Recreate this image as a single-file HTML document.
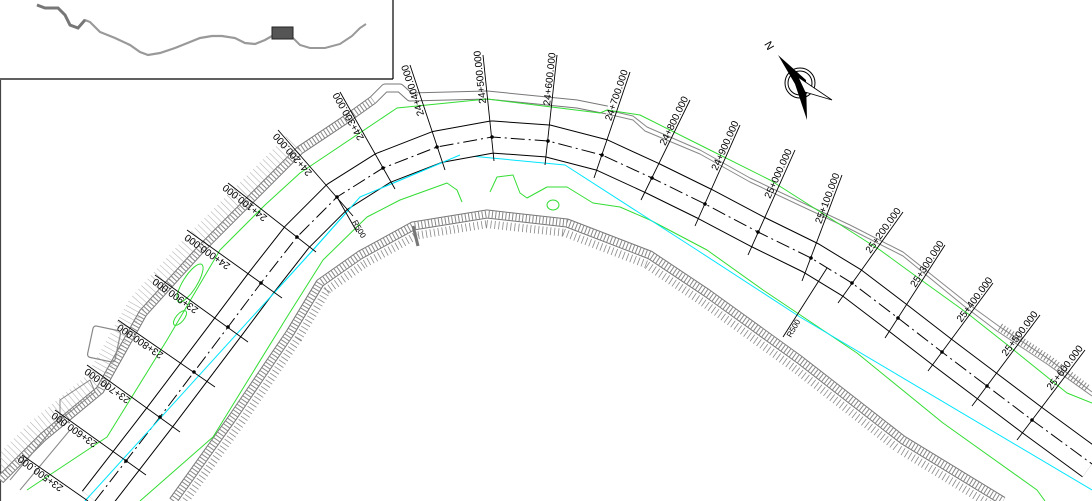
<!DOCTYPE html>
<html><head><meta charset="utf-8"><style>
html,body{margin:0;padding:0;background:#fff;width:1092px;height:501px;overflow:hidden;}
svg{display:block;overflow:hidden;}
text{font-family:"Liberation Sans",sans-serif;}
</style></head><body>
<svg width="1092" height="501" viewBox="0 0 1092 501" xmlns="http://www.w3.org/2000/svg">
<defs>
<clipPath id="below"><path d="M173,501 L233,417 L290,333 L320,283 L360,255 L413,226 L487,214 L567,223 L650,255 L707,293 L800,360 L903,440 L1003,501 Z"/></clipPath>
<clipPath id="frame"><rect x="0" y="0" width="1092" height="501"/></clipPath>
</defs>
<rect width="1092" height="501" fill="#fff"/>
<g clip-path="url(#frame)">

<!-- inset -->
<g fill="none">
<polyline points="37,5 45,8 58,8 65,15 70,25 78,28 85,20 90,22 100,32 115,38 130,45 140,52 148,55 160,53 175,48 190,42 200,38 212,36 222,36 235,38 245,43 255,44 265,40 272,36" stroke="#999" stroke-width="2.2"/>
<polyline points="293,38 300,45 310,48 325,48 340,44 352,36 360,28 366,24" stroke="#999" stroke-width="2"/>
<polyline points="37,5 45,8 58,8 65,15 70,25 78,28 85,20" stroke="#777" stroke-width="3"/>
<rect x="272" y="27" width="21" height="12" fill="#555" stroke="#222"/>
<line x1="0" y1="79" x2="393" y2="79" stroke="#000" stroke-width="1.2"/>
<line x1="393" y1="0" x2="393" y2="79" stroke="#000" stroke-width="1.2"/>
<line x1="0.5" y1="80" x2="0.5" y2="501" stroke="#444" stroke-width="1.2"/>
</g>

<!-- inner bank teeth -->
<g clip-path="url(#below)" fill="none">
<polyline points="173,501 233,417 290,333 320,283 360,255 413,226 487,214 567,223 650,255 707,293 800,360 903,440 1003,501" stroke="#888" stroke-width="28" stroke-dasharray="0.8 3.2" stroke-linejoin="round"/>
</g>
<g fill="none" stroke-linejoin="round">
<polyline points="173,501 233,417 290,333 320,283 360,255 413,226 487,214 567,223 650,255 707,293 800,360 903,440 1003,501" stroke="#fff" stroke-width="12"/>
<polyline points="173,501 233,417 290,333 320,283 360,255 413,226 487,214 567,223 650,255 707,293 800,360 903,440 1003,501" stroke="#777" stroke-width="9"/>
<polyline points="173,501 233,417 290,333 320,283 360,255 413,226 487,214 567,223 650,255 707,293 800,360 903,440 1003,501" stroke="#fff" stroke-width="7"/>
<polyline points="173,501 233,417 290,333 320,283 360,255 413,226 487,214 567,223 650,255 707,293 800,360 903,440 1003,501" stroke="#888" stroke-width="7" stroke-dasharray="1 2.4"/>
<line x1="413" y1="226" x2="418" y2="246" stroke="#777" stroke-width="3"/>

<!-- outer levee -->
<polyline points="0,480 43,437 100,390 143,313 200,250 250,200 300,150 345,120 373,100 385,88 400,88 410,97 487,95 577,104 607,110" stroke="#777" stroke-width="9"/>
<polyline points="0,480 43,437 100,390 143,313 200,250 250,200 300,150 345,120 373,100 385,88 400,88 410,97 487,95 577,104 607,110" stroke="#fff" stroke-width="7"/>
<polyline points="0,480 43,437 100,390 143,313 200,250 250,200 300,150 345,120 373,100" stroke="#888" stroke-width="7" stroke-dasharray="1 2.4"/>
<polyline points="6,477 49,434 106,387 149,310 206,247 256,197 306,147" stroke="#888" stroke-width="18" stroke-dasharray="0.6 4" transform="translate(-12,-6)" opacity="0.6"/>
<polyline points="607,110 633,116 647,127 700,150 750,178 850,225 903,252 967,303 1000,327 1050,360 1092,392" stroke="#888" stroke-width="1"/>
<polyline points="607,114 633,120 645,131 700,154 750,182 850,229 903,256 964,306 997,331 1047,364 1092,396" stroke="#888" stroke-width="1"/>
<polyline points="1000,327 1050,360 1088,389" stroke="#888" stroke-width="8" stroke-dasharray="1 2.4"/>
<rect x="90" y="328" width="28" height="32" rx="3" stroke="#888" stroke-width="1.2" transform="rotate(12 104 344)"/>
<path d="M60,400 L90,380 L95,392 L60,420 Z" stroke="#888" stroke-width="1"/>
<path d="M10,480 L60,420 M20,490 L70,430" stroke="#888" stroke-width="1"/>

<!-- outer green -->
<polyline points="27,490 107,437 167,340 220,250 265,205 300,173 397,108 487,99 600,113 607,110 640,115 700,145 770,180 880,250 917,277 967,313 1010,347 1067,393 1092,403" stroke="#33dd33" stroke-width="1"/>
<ellipse cx="190" cy="283" rx="22" ry="7" transform="rotate(-58 190 283)" stroke="#33dd33" stroke-width="1"/>
<ellipse cx="180" cy="318" rx="9" ry="4" transform="rotate(-50 180 318)" stroke="#33dd33" stroke-width="1"/>

<!-- inner greens -->
<polyline points="140,501 213,437 287,317 323,260 367,217 400,200 447,183 457,190 462,202" stroke="#33dd33" stroke-width="1"/>
<polyline points="490,192 497,177 513,175 520,193 527,198 547,187 567,187 593,203 620,207 650,220 707,250 763,290 857,353 943,423 1037,490 1045,501" stroke="#33dd33" stroke-width="1"/>
<ellipse cx="553" cy="205" rx="6" ry="5" stroke="#33dd33" stroke-width="1"/>

<!-- cyan -->
<polyline points="85,501 313,250 360,197 460,155 565,165 697,250 800,317 1092,490" stroke="#00e5ff" stroke-width="1"/>

<!-- channel lines -->
<polyline points="95,501 126,461 160,417 194,372 228,327 261,283 297,237 337,197 383,168 437,147 492,137 548,141 602,155 652,178 705,204 758,232 811,258 852,283 898,318 942,352 987,386 1032,420 1077,453 1092,464" stroke="#000" stroke-width="33"/>
<polyline points="95,501 126,461 160,417 194,372 228,327 261,283 297,237 337,197 383,168 437,147 492,137 548,141 602,155 652,178 705,204 758,232 811,258 852,283 898,318 942,352 987,386 1032,420 1077,453 1092,464" stroke="#fff" stroke-width="31"/>
<polyline points="95,501 126,461 160,417 194,372 228,327 261,283 297,237 337,197 383,168 437,147 492,137 548,141 602,155 652,178 705,204 758,232 811,258 852,283 898,318 942,352 987,386 1032,420 1077,453 1092,464" stroke="#000" stroke-width="1" stroke-dasharray="14 4 2 4"/>
<polyline points="85,501 313,250 360,197 460,155" stroke="#00e5ff" stroke-width="1"/>
</g>

<!-- station lines -->
<g stroke="#000" stroke-width="0.9" fill="none">
<line x1="494" y1="161" x2="483" y2="55"/>
<line x1="545" y1="165" x2="557" y2="55"/>
<line x1="594" y1="178" x2="630" y2="72"/>
<line x1="445" y1="170" x2="410" y2="65"/>
<line x1="395" y1="189" x2="340" y2="92"/>
<line x1="353" y1="216" x2="278" y2="130"/>
<line x1="316" y1="252" x2="228" y2="183"/>
<line x1="282" y1="298" x2="187" y2="230"/>
<line x1="248" y1="342" x2="155" y2="275"/>
<line x1="215" y1="387" x2="118" y2="320"/>
<line x1="180" y1="432" x2="87" y2="365"/>
<line x1="146" y1="475" x2="55" y2="410"/>
<line x1="88" y1="501" x2="22" y2="455"/>
<line x1="641" y1="200" x2="690" y2="100"/>
<line x1="695" y1="226" x2="740" y2="125"/>
<line x1="748" y1="255" x2="795" y2="150"/>
<line x1="802" y1="281" x2="842" y2="175"/>
<line x1="838" y1="303" x2="903" y2="212"/>
<line x1="885" y1="338" x2="945" y2="245"/>
<line x1="928" y1="371" x2="993" y2="283"/>
<line x1="972" y1="406" x2="1040" y2="315"/>
<line x1="1017" y1="440" x2="1085" y2="350"/>
<line x1="337" y1="197" x2="357" y2="232"/>
<line x1="827" y1="268" x2="783" y2="337"/>
</g>
<g fill="#000">
<circle cx="492" cy="137" r="1.8"/><circle cx="548" cy="141" r="1.8"/><circle cx="602" cy="155" r="1.8"/><circle cx="437" cy="147" r="1.8"/><circle cx="383" cy="168" r="1.8"/><circle cx="337" cy="197" r="1.8"/><circle cx="297" cy="237" r="1.8"/><circle cx="261" cy="283" r="1.8"/><circle cx="228" cy="327" r="1.8"/><circle cx="194" cy="372" r="1.8"/><circle cx="160" cy="417" r="1.8"/><circle cx="126" cy="461" r="1.8"/><circle cx="652" cy="178" r="1.8"/><circle cx="705" cy="204" r="1.8"/><circle cx="758" cy="232" r="1.8"/><circle cx="811" cy="258" r="1.8"/><circle cx="852" cy="283" r="1.8"/><circle cx="898" cy="318" r="1.8"/><circle cx="942" cy="352" r="1.8"/><circle cx="987" cy="386" r="1.8"/><circle cx="1032" cy="420" r="1.8"/>
</g>

<!-- labels -->
<g font-size="10" fill="#000">
<text transform="translate(488,103) rotate(-96.2)" dy="-2">24+500.000</text>
<text transform="translate(552,106) rotate(-84)" dy="-2">24+600.000</text>
<text transform="translate(613,122) rotate(-71.4)" dy="-2">24+700.000</text>
<text transform="translate(426,114) rotate(-108.2)" dy="-2">24+400.000</text>
<text transform="translate(366,137) rotate(-119.5)" dy="-2">24+300.000</text>
<text transform="translate(314,171) rotate(-131.4)" dy="-2">24+200.000</text>
<text transform="translate(269,215) rotate(-142)" dy="-2">24+100.000</text>
<text transform="translate(232,263) rotate(-144.4)" dy="-2">24+000.000</text>
<text transform="translate(200,307) rotate(-144.5)" dy="-2">23+900.000</text>
<text transform="translate(165,352) rotate(-145.6)" dy="-2">23+800.000</text>
<text transform="translate(132,397) rotate(-144.5)" dy="-2">23+700.000</text>
<text transform="translate(99,441) rotate(-144.5)" dy="-2">23+600.000</text>
<text transform="translate(65,485) rotate(-144)" dy="-2">23+500.000</text>
<text transform="translate(667,147) rotate(-64)" dy="-2">24+800.000</text>
<text transform="translate(719,172) rotate(-66)" dy="-2">24+900.000</text>
<text transform="translate(772,200) rotate(-65.7)" dy="-2">25+000.000</text>
<text transform="translate(823,225) rotate(-69.5)" dy="-2">25+100.000</text>
<text transform="translate(872,255) rotate(-54.3)" dy="-2">25+200.000</text>
<text transform="translate(917,289) rotate(-57.2)" dy="-2">25+300.000</text>
<text transform="translate(963,324) rotate(-53.5)" dy="-2">25+400.000</text>
<text transform="translate(1008,358) rotate(-53.3)" dy="-2">25+500.000</text>
<text transform="translate(1053,392) rotate(-53)" dy="-2">25+600.000</text>
<text font-size="8" transform="translate(352,222) rotate(60)">R500</text>
<text font-size="8" transform="translate(791,338) rotate(-60)">R500</text>
</g>

<!-- compass -->
<g>
<circle cx="800" cy="83" r="15" fill="none" stroke="#000" stroke-width="1"/>
<circle cx="800" cy="83" r="12" fill="none" stroke="#000" stroke-width="1"/>
<polygon points="778,55 806,80 807,120 795,84" fill="#000"/>
<polygon points="798,77 832,100 805,92" fill="#fff" stroke="#000" stroke-width="0.8"/>
<text font-size="11" transform="translate(764,44) rotate(60)">N</text>
</g>
</g>
</svg>
</body></html>
